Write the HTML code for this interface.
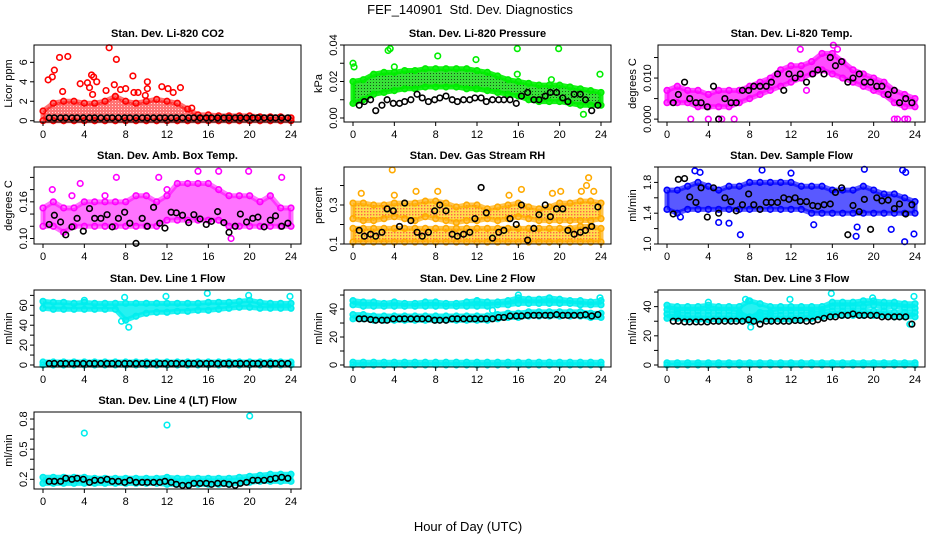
<!DOCTYPE html>
<html><head><meta charset="utf-8"><style>
body{margin:0;background:#fff;}
svg{display:block;font-family:"Liberation Sans",Arial,sans-serif;}
</style></head><body>
<svg id="chart" width="936" height="540" viewBox="0 0 936 540">
<defs>
<pattern id="rhPat" width="3" height="3" patternUnits="userSpaceOnUse"><rect width="3" height="3" fill="#ffd000"/><rect x="1" y="1" width="1.4" height="1.4" fill="#ff2000"/></pattern>
<pattern id="prPat" width="3" height="3" patternUnits="userSpaceOnUse"><rect width="3" height="3" fill="#22dd22"/><rect x="1" y="1" width="1" height="1" fill="#004400"/></pattern>
<pattern id="co2Pat" width="3" height="3" patternUnits="userSpaceOnUse"><rect width="3" height="3" fill="#ff0000"/><rect x="1" y="1" width="1" height="1" fill="#ffb0b0"/></pattern>
</defs>
<text x="470" y="14" text-anchor="middle" font-size="13">FEF_140901&#160;&#160;Std. Dev. Diagnostics</text>
<text x="468" y="531" text-anchor="middle" font-size="13">Hour of Day (UTC)</text>
<g id="panels"></g>
</svg>
<script>
// shared data
const hours = [0,1,2,3,4,5,6,7,8,9,10,11,12,13,14,15,16,17,18,19,20,21,22,23,24];
const blackHours = [0.6,1.1,1.7,2.2,2.8,3.3,3.9,4.5,5.0,5.6,6.2,6.7,7.3,7.9,8.4,9.0,9.6,10.1,10.7,11.3,11.8,12.4,12.9,13.5,14.1,14.6,15.2,15.8,16.3,16.9,17.5,18.0,18.6,19.1,19.7,20.3,20.8,21.4,22.0,22.5,23.1,23.7];
const xTicks = [0,4,8,12,16,20,24];

// Panel 1 CO2
const co2Lo = [0,0,0,0,0,0,0,0,0,0,0,0,0,0,0,0,0,0,0,0,0,0,0,0,0];
const co2Hi = [1.0,1.8,2.0,2.0,1.8,1.8,2.0,2.5,2.0,1.8,2.0,2.2,2.0,1.8,1.2,0.6,0.6,0.5,0.5,0.5,0.5,0.4,0.4,0.4,0.3];
const co2OutX = [0.5,0.9,1.1,1.6,2.4,1.9,3.6,4.3,4.5,4.7,4.9,5.2,4.8,6.4,6.9,7.1,6.1,7.5,8.0,8.7,8.8,9.2,10.1,10.1,11.5,12.1,12.6,13.3,14.4,7.0,9.9];
const co2OutY = [4.2,4.5,5.2,6.5,6.6,3.0,3.8,3.9,3.4,4.7,4.5,4.0,2.7,7.5,3.7,6.3,3.1,3.2,3.3,4.6,2.9,2.9,4.0,3.3,3.5,3.3,2.9,3.4,1.3,2.5,2.6];
const co2Black = [0.3,0.3,0.3,0.3,0.3,0.3,0.3,0.3,0.3,0.3,0.3,0.3,0.3,0.3,0.3,0.3,0.3,0.3,0.3,0.3,0.3,0.3,0.3,0.3,0.3,0.3,0.3,0.3,0.3,0.3,0.3,0.3,0.3,0.3,0.3,0.3,0.3,0.3,0.3,0.3,0.3,0.3];

// Panel 2 pressure
const prLo = [0.008,0.010,0.013,0.014,0.015,0.016,0.016,0.017,0.017,0.017,0.017,0.016,0.016,0.015,0.014,0.013,0.012,0.010,0.009,0.009,0.009,0.008,0.007,0.007,0.007];
const prHi = [0.020,0.021,0.024,0.025,0.025,0.026,0.026,0.027,0.027,0.027,0.027,0.027,0.026,0.025,0.023,0.021,0.020,0.019,0.018,0.018,0.018,0.017,0.016,0.015,0.014];
const prOutX = [0,0.1,3.4,3.6,4.0,8.2,11.9,11.9,15.9,15.9,19.9,22.3,23.9,19.2];
const prOutY = [0.030,0.028,0.037,0.038,0.028,0.034,0.032,0.016,0.038,0.024,0.038,0.002,0.024,0.021];
const prBlack = [0.007,0.009,0.010,0.004,0.007,0.010,0.008,0.008,0.009,0.010,0.013,0.011,0.009,0.010,0.011,0.012,0.010,0.009,0.010,0.010,0.011,0.011,0.009,0.010,0.010,0.010,0.010,0.008,0.012,0.014,0.010,0.010,0.012,0.014,0.014,0.011,0.009,0.013,0.013,0.010,0.004,0.007];

// Panel 3 Li-820 temp
const tpLo = [0.004,0.004,0.004,0.003,0.003,0.003,0.003,0.004,0.005,0.006,0.007,0.008,0.009,0.010,0.011,0.012,0.011,0.010,0.009,0.008,0.007,0.006,0.004,0.003,0.003];
const tpHi = [0.007,0.008,0.007,0.007,0.006,0.007,0.007,0.007,0.008,0.009,0.010,0.012,0.013,0.013,0.014,0.016,0.016,0.014,0.012,0.011,0.010,0.009,0.007,0.006,0.005];
const tpOutX = [2.3,4.0,5.0,5.3,6.5,22.0,22.3,23.0,23.3,12.9,16.1,16.5,13.5];
const tpOutY = [0,0,0,0,0,0,0,0,0,0.017,0.018,0.017,0.007];
const tpBlack = [0.004,0.006,0.009,0.005,0.004,0.004,0.003,0.008,0.000,0.005,0.004,0.004,0.007,0.007,0.008,0.008,0.008,0.009,0.011,0.007,0.011,0.010,0.011,0.009,0.011,0.012,0.011,0.015,0.013,0.014,0.009,0.010,0.011,0.009,0.009,0.008,0.008,0.006,0.007,0.004,0.005,0.004];

// Panel 4 amb box temp
const abLo = [0.12,0.12,0.11,0.12,0.12,0.12,0.12,0.12,0.12,0.12,0.12,0.12,0.13,0.13,0.13,0.13,0.13,0.13,0.12,0.12,0.12,0.12,0.12,0.12,0.12];
const abHi = [0.15,0.16,0.15,0.15,0.16,0.16,0.16,0.16,0.16,0.17,0.17,0.16,0.17,0.19,0.19,0.19,0.19,0.18,0.17,0.17,0.17,0.16,0.17,0.15,0.15];
const abOutX = [0.9,3.6,7.1,11.2,15.0,17.0,19.9,23.1,18.2,12.0,2.8,6.0];
const abOutY = [0.18,0.19,0.20,0.20,0.21,0.21,0.21,0.20,0.10,0.18,0.17,0.17];
const abBlack = [0.123,0.138,0.127,0.106,0.119,0.133,0.112,0.149,0.133,0.133,0.139,0.119,0.133,0.143,0.125,0.092,0.133,0.120,0.151,0.125,0.117,0.143,0.142,0.138,0.126,0.139,0.132,0.123,0.128,0.144,0.126,0.110,0.120,0.140,0.127,0.133,0.135,0.119,0.130,0.137,0.120,0.125];

// Panel 5 RH (two bands)
const rhLoA = [0.11,0.11,0.11,0.11,0.11,0.11,0.11,0.11,0.11,0.11,0.11,0.11,0.11,0.11,0.11,0.11,0.11,0.11,0.11,0.11,0.11,0.11,0.11,0.11,0.11];
const rhHiA = [0.18,0.18,0.18,0.18,0.18,0.18,0.18,0.18,0.18,0.18,0.18,0.18,0.18,0.18,0.18,0.18,0.18,0.18,0.18,0.18,0.18,0.18,0.19,0.19,0.18];
const rhLoB = [0.23,0.22,0.22,0.23,0.24,0.23,0.22,0.24,0.23,0.22,0.21,0.22,0.22,0.23,0.22,0.23,0.24,0.23,0.22,0.22,0.22,0.22,0.22,0.22,0.23];
const rhHiB = [0.31,0.31,0.30,0.30,0.31,0.31,0.31,0.32,0.32,0.31,0.29,0.30,0.30,0.28,0.29,0.30,0.31,0.29,0.28,0.29,0.31,0.31,0.32,0.32,0.31];
const rhOutX = [0.8,3.8,4.0,6.1,8.2,16.3,19.3,20.1,22.1,22.6,22.8,23.3,15.1];
const rhOutY = [0.36,0.48,0.35,0.37,0.37,0.38,0.36,0.37,0.37,0.40,0.44,0.37,0.35];
const rhBlack = [0.17,0.14,0.15,0.14,0.16,0.28,0.27,0.19,0.31,0.22,0.16,0.14,0.16,0.27,0.30,0.27,0.15,0.14,0.15,0.16,0.23,0.39,0.26,0.13,0.16,0.17,0.23,0.20,0.30,0.12,0.18,0.25,0.30,0.24,0.28,0.28,0.17,0.15,0.16,0.17,0.19,0.29];

// Panel 6 sample flow
const sfLo = [1.45,1.40,1.45,1.45,1.45,1.45,1.45,1.45,1.45,1.45,1.45,1.45,1.45,1.45,1.40,1.40,1.40,1.40,1.40,1.40,1.40,1.40,1.40,1.40,1.40];
const sfHi = [1.70,1.70,1.75,1.80,1.75,1.70,1.75,1.75,1.80,1.80,1.80,1.80,1.80,1.75,1.75,1.75,1.70,1.70,1.70,1.75,1.70,1.65,1.65,1.60,1.55];
const sfOutX = [2.7,3.2,9.2,12.0,19.1,22.8,23.1,7.1,18.3,23.0,23.9,14.2,5.0,21.7,6.0,1.3,18.4];
const sfOutY = [1.95,1.93,1.96,1.92,1.97,1.96,1.93,1.12,1.10,1.03,1.13,1.25,1.28,1.19,1.27,1.35,1.22];
const sfBlack = [1.39,1.84,1.85,1.61,1.54,1.73,1.35,1.73,1.40,1.60,1.55,1.43,1.51,1.65,1.51,1.45,1.54,1.54,1.54,1.60,1.58,1.60,1.55,1.55,1.50,1.49,1.51,1.52,1.67,1.73,1.12,1.50,1.42,1.58,1.19,1.60,1.56,1.57,1.46,1.52,1.39,1.51];

// Panel 7 line 1
const l1LoA = [57,56,56,56,56,56,56,56,45,49,52,53,53,54,54,55,55,56,57,58,58,57,57,57,57];
const l1HiA = [64,63,63,62,63,62,62,62,62,62,62,62,62,62,62,62,63,63,63,64,65,63,62,62,62];
const l1LoB = [0,0,0,0,0,0,0,0,0,0,0,0,0,0,0,0,0,0,0,0,0,0,0,0,0];
const l1HiB = [3,3,3,3,3,3,3,3,3,3,3,3,3,3,3,3,3,3,3,3,3,3,3,3,3];
const l1OutX = [7.9,11.9,15.9,19.9,23.9,7.6,8.3,4.0];
const l1OutY = [68,69,72,70,69,44,38,65];
const l1Black = [1.5,1.5,1.5,1.5,1.5,1.5,1.5,1.5,1.5,1.5,1.5,1.5,1.5,1.5,1.5,1.5,1.5,1.5,1.5,1.5,1.5,1.5,1.5,1.5,1.5,1.5,1.5,1.5,1.5,1.5,1.5,1.5,1.5,1.5,1.5,1.5,1.5,1.5,1.5,1.5,1.5,1.5];

// Panel 8 line 2
const l2LoA = [43,42,42,42,42,42,42,42,42,42,42,42,42,42,43,43,44,44,44,44,44,44,43,43,43];
const l2HiA = [46,45,45,44,45,44,44,45,45,44,44,45,46,45,45,46,48,47,47,48,47,46,46,45,46];
const l2LoB = [33,33,32,32,32,32,32,32,32,32,32,32,32,32,33,34,34,35,35,35,35,35,35,34,34];
const l2HiB = [36,36,35,35,35,35,35,35,35,35,35,35,35,35,36,37,37,38,38,38,38,38,38,37,37];
const l2LoC = [0,0,0,0,0,0,0,0,0,0,0,0,0,0,0,0,0,0,0,0,0,0,0,0,0];
const l2HiC = [2,2,2,2,2,2,2,2,2,2,2,2,2,2,2,2,2,2,2,2,2,2,2,2,2];
const l2OutX = [16.0,23.9,12.0,13.5];
const l2OutY = [50,48,46,39];
const l2Black = [33,33,32.5,32,32,32,33,33,33,33,33,33,33,32,32,32,33,33,33,33,33,33,33,33,34,34,35,35,35,35.5,35.5,35.5,35.5,35.5,36,35.5,35.5,35.5,35.5,36,35,36];

// Panel 9 line 3
const l3LoA = [38,37,37,37,37,37,37,36,32,36,36,37,37,37,37,38,40,40,40,40,41,40,40,39,39];
const l3HiA = [41,40,40,40,41,40,40,40,44,42,40,40,40,40,40,40,43,43,43,44,44,43,43,42,42];
const l3LoB = [32,32,31,31,31,31,31,31,30,31,31,31,31,31,32,33,34,34,34,34,34,34,33,33,33];
const l3HiB = [35,35,34,34,34,34,34,34,33,34,34,34,34,34,35,36,37,37,37,37,37,37,36,36,36];
const l3LoC = [0,0,0,0,0,0,0,0,0,0,0,0,0,0,0,0,0,0,0,0,0,0,0,0,0];
const l3HiC = [1.5,1.5,1.5,1.5,1.5,1.5,1.5,1.5,1.5,1.5,1.5,1.5,1.5,1.5,1.5,1.5,1.5,1.5,1.5,1.5,1.5,1.5,1.5,1.5,1.5];
const l3OutX = [7.6,7.9,8.1,11.9,15.9,19.9,23.9,23.5,4.0];
const l3OutY = [45,44,26,45,49,46,47,28,43];
const l3Black = [30,30,29.5,29.5,29.5,29.5,29.5,30,30,30,30,30,30,31,30,28,30,30,30,30,30,30.5,30.5,30,30,31,32,33,33,34,34,35,34,34,34,34,33,33,33,33,33,28];

// Panel 10 line 4
const l4Lo = [0.16,0.16,0.16,0.16,0.16,0.16,0.16,0.16,0.16,0.16,0.16,0.16,0.15,0.15,0.15,0.15,0.15,0.15,0.15,0.16,0.17,0.18,0.18,0.18,0.18];
const l4Hi = [0.22,0.22,0.22,0.22,0.22,0.21,0.21,0.21,0.21,0.21,0.21,0.21,0.22,0.21,0.21,0.21,0.21,0.21,0.21,0.22,0.23,0.24,0.25,0.25,0.25];
const l4OutX = [4.0,12.0,20.0];
const l4OutY = [0.66,0.74,0.83];
const l4Black = [0.18,0.18,0.18,0.21,0.20,0.21,0.20,0.17,0.19,0.19,0.20,0.18,0.18,0.17,0.19,0.17,0.17,0.17,0.17,0.17,0.18,0.17,0.15,0.14,0.14,0.16,0.16,0.16,0.15,0.16,0.16,0.15,0.14,0.16,0.17,0.19,0.19,0.19,0.20,0.21,0.22,0.21];

// y tick arrays
const t1 = [0,2,4,6], L1 = ["0","2","4","6"];
const t2 = [0,0.01,0.02,0.03,0.04], L2 = ["0.00","","0.02","","0.04"];
const t3 = [0,0.005,0.01,0.015], L3 = ["0.000","","0.010",""];
const t4 = [0.10,0.12,0.14,0.16,0.18,0.20], L4 = ["0.10","","","0.16","",""];
const t5 = [0.1,0.2,0.3,0.4], L5 = ["0.1","","0.3",""];
const t6 = [1.0,1.2,1.4,1.6,1.8,2.0], L6 = ["1.0","","1.4","","1.8",""];
const t7 = [0,10,20,30,40,50,60,70], L7 = ["0","","20","","40","","60",""];
const t8 = [0,10,20,30,40,50], L8 = ["0","","20","","40",""];
const t10 = [0.2,0.3,0.4,0.5,0.6,0.7,0.8], L10 = ["0.2","","","0.5","","","0.8"];

const CY='#00eeee';
const panels = [
 {name:'co2',title:'Stan. Dev. Li-820 CO2',ylab:'Licor ppm',col:0,row:0,dom:[-0.13,7.78],ticks:t1,labs:L1,color:'#ff0000',fill:'url(#co2Pat)',op:0.55,bands:[[co2Lo,co2Hi]],ox:co2OutX,oy:co2OutY,black:co2Black},
 {name:'pressure',title:'Stan. Dev. Li-820 Pressure',ylab:'kPa',col:1,row:0,dom:[-0.0022,0.04],ticks:t2,labs:L2,color:'#00ee00',fill:'url(#prPat)',op:0.9,bands:[[prLo,prHi]],ox:prOutX,oy:prOutY,black:prBlack},
 {name:'li820-temp',title:'Stan. Dev. Li-820 Temp.',ylab:'degrees C',col:2,row:0,dom:[-0.0007,0.01805],ticks:t3,labs:L3,color:'#ff00ff',fill:'#ff00ff',op:0.7,bands:[[tpLo,tpHi]],ox:tpOutX,oy:tpOutY,black:tpBlack},
 {name:'amb-box-temp',title:'Stan. Dev. Amb. Box Temp.',ylab:'degrees C',col:0,row:1,dom:[0.091,0.217],ticks:t4,labs:L4,color:'#ff00ff',fill:'#ff00ff',op:0.55,bands:[[abLo,abHi]],ox:abOutX,oy:abOutY,black:abBlack},
 {name:'gas-stream-rh',title:'Stan. Dev. Gas Stream RH',ylab:'percent',col:1,row:1,dom:[0.1,0.495],ticks:t5,labs:L5,color:'#ffaa00',fill:'url(#rhPat)',op:0.7,bands:[[rhLoA,rhHiA],[rhLoB,rhHiB]],ox:rhOutX,oy:rhOutY,black:rhBlack},
 {name:'sample-flow',title:'Stan. Dev. Sample Flow',ylab:'ml/min',col:2,row:1,dom:[1.0,2.0],ticks:t6,labs:L6,color:'#0000ff',fill:'#0000ff',op:0.65,bands:[[sfLo,sfHi]],ox:sfOutX,oy:sfOutY,black:sfBlack},
 {name:'line1-flow',title:'Stan. Dev. Line 1 Flow',ylab:'ml/min',col:0,row:2,dom:[-2,75.4],ticks:t7,labs:L7,color:CY,fill:CY,op:0.85,bands:[[l1LoA,l1HiA],[l1LoB,l1HiB]],ox:l1OutX,oy:l1OutY,black:l1Black},
 {name:'line2-flow',title:'Stan. Dev. Line 2 Flow',ylab:'ml/min',col:1,row:2,dom:[-1.43,53.6],ticks:t8,labs:L8,color:CY,fill:CY,op:0.85,bands:[[l2LoA,l2HiA],[l2LoB,l2HiB],[l2LoC,l2HiC]],ox:l2OutX,oy:l2OutY,black:l2Black},
 {name:'line3-flow',title:'Stan. Dev. Line 3 Flow',ylab:'ml/min',col:2,row:2,dom:[-1.37,51.4],ticks:t8,labs:L8,color:CY,fill:CY,op:0.85,bands:[[l3LoA,l3HiA],[l3LoB,l3HiB],[l3LoC,l3HiC]],ox:l3OutX,oy:l3OutY,black:l3Black},
 {name:'line4-flow',title:'Stan. Dev. Line 4 (LT) Flow',ylab:'ml/min',col:0,row:3,dom:[0.1035,0.87],ticks:t10,labs:L10,color:CY,fill:CY,op:0.85,bands:[[l4Lo,l4Hi]],ox:l4OutX,oy:l4OutY,black:l4Black}
];
const colL=[34,344,658], rowT=[45,167,290,412], W=267, H=77;
const NS='http://www.w3.org/2000/svg';
const root=document.getElementById('panels');
function mk(tag,attrs,parent){const e=document.createElementNS(NS,tag);for(const k in attrs)e.setAttribute(k,attrs[k]);parent.appendChild(e);return e;}
panels.forEach(p=>{
  const L=colL[p.col], T=rowT[p.row];
  const xs=h=>L+9+h/24*(W-19);
  const ys=v=>T+H-(v-p.dom[0])/(p.dom[1]-p.dom[0])*H;
  const g=mk('g',{},root);
  
  
  const t=mk('text',{x:L+W/2,y:T-8,'text-anchor':'middle','font-size':'11','font-weight':'bold'},g);
  t.textContent=p.title;
  
  
  const clip=mk('g',{},g);
  
  
  p.bands.forEach(b=>{
    let pts=hours.map((h,i)=>xs(h)+','+ys(b[1][i]));
    pts=pts.concat(hours.slice().reverse().map((h,j)=>{const i=hours.length-1-j;return xs(h)+','+ys(b[0][i]);}));
    const poly=mk('polygon',{points:pts.join(' '),fill:p.fill,'fill-opacity':p.op,stroke:p.color,'stroke-opacity':p.op,'stroke-width':5,'stroke-linejoin':'round'},clip);
    
    
    hours.forEach((h,i)=>{[0,1].forEach(k=>{
      const c=mk('circle',{cx:xs(h),cy:ys(b[k][i]),r:2.8,fill:'none',stroke:p.color,'stroke-width':1.6},clip);
      
      
    });});
  });
  p.ox.forEach((x,i)=>{
    const c=mk('circle',{cx:xs(x),cy:ys(p.oy[i]),r:2.8,fill:'none',stroke:p.color,'stroke-width':1.6},clip);
    
    
  });
  blackHours.forEach((h,i)=>{
    const c=mk('circle',{cx:xs(h),cy:ys(p.black[i]),r:2.8,fill:'none',stroke:'#000','stroke-width':1.6},clip);
    
    
  });
  const box=mk('rect',{x:L,y:T,width:W,height:H,fill:'none',stroke:'#000','stroke-width':1},g);
  
  
  xTicks.forEach(h=>{
    mk('line',{x1:xs(h),x2:xs(h),y1:T+H,y2:T+H+4,stroke:'#000'},g);
    const tl=mk('text',{x:xs(h),y:T+H+16,'text-anchor':'middle','font-size':'11'},g);
    tl.textContent=h;
    
    
  });
  p.ticks.forEach((v,i)=>{
    mk('line',{x1:L-4,x2:L,y1:ys(v),y2:ys(v),stroke:'#000'},g);
    if(p.labs[i]){
      const yl=mk('text',{x:0,y:0,'text-anchor':'middle','font-size':'11',transform:'translate('+(L-7)+','+ys(v)+') rotate(-90)'},g);
      yl.textContent=p.labs[i];
      
      
    }
  });
  const ya=mk('text',{x:0,y:0,'text-anchor':'middle','font-size':'11',transform:'translate('+(L-22)+','+(T+H/2)+') rotate(-90)'},g);
  ya.textContent=p.ylab;
  
  
});
</script>
</body></html>
